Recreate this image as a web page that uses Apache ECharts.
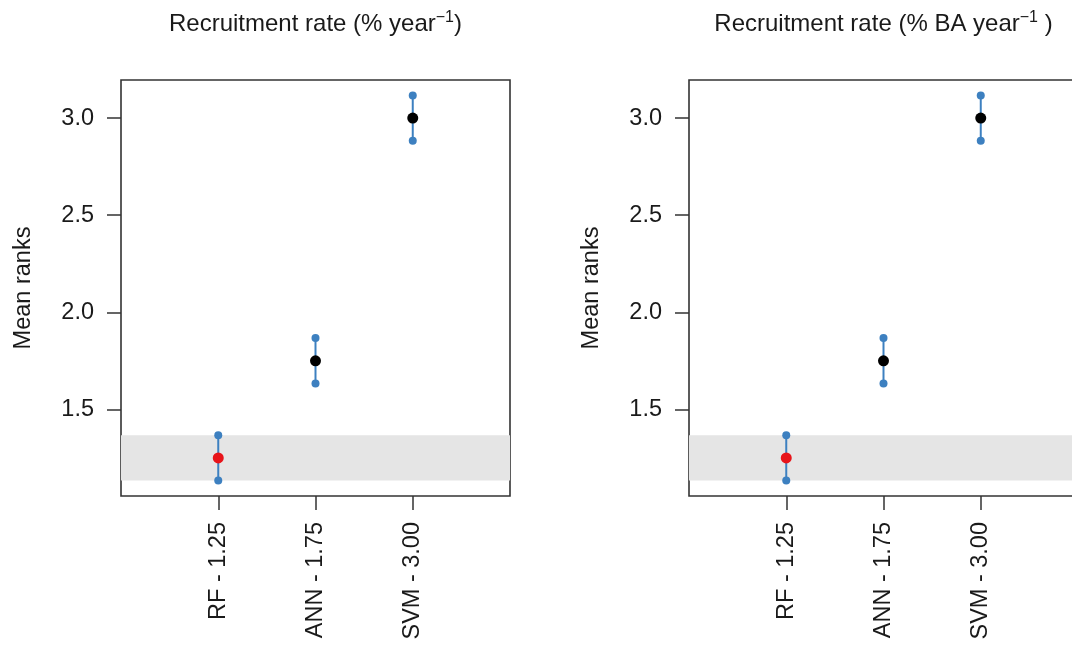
<!DOCTYPE html>
<html>
<head>
<meta charset="utf-8">
<script src="https://cdn.jsdelivr.net/npm/echarts@6/dist/echarts.min.js"></script>
<style>
  html, body { margin: 0; padding: 0; background: #fff; }
  #chart { width: 1072px; height: 646px; }
</style>
</head>
<body>
<div id="chart"></div>
<script>
// Friedman mean ranks of the three models, one array per response variable
const methods = ['RF', 'ANN', 'SVM'];
const meanRanksRate = [1.25, 1.75, 3.00];
const meanRanksBA = [1.25, 1.75, 3.00];
// half of the Nemenyi critical difference drawn as bars around each mean rank
const halfCD = 0.117;
const yTicks = [1.5, 2.0, 2.5, 3.0];
const xTicks = [1, 2, 3];

const FONT = '"Liberation Sans", Arial, Helvetica, sans-serif';
const INK = '#1a1a1a';
const FRAME = '#333333';
const CI_BLUE = '#3d80c0';
const BAND = '#e5e5e5';
const AXIS_FS = 23.5;
const TITLE_FS = 24;

// plot frames in pixels
const GRID_W = 389;
const GRID_H = 416;
const GRID_TOP = 80;
const GRID_LEFTS = [121, 689];

const panels = [
  { ranks: meanRanksRate, title: ['Recruitment rate (% year', '\u22121', ')'] },
  { ranks: meanRanksBA, title: ['Recruitment rate (% BA year', '\u22121', ' )'] }
];

// y range: span of all intervals padded by 4% on each side
function yRange(ranks) {
  const lo = Math.min(...ranks.map(v => v - halfCD));
  const hi = Math.max(...ranks.map(v => v + halfCD));
  const pad = 0.04 * (hi - lo);
  return [lo - pad, hi + pad];
}

const grids = [], xAxes = [], yAxes = [], series = [], graphics = [];

panels.forEach((p, k) => {
  const [ymin, ymax] = yRange(p.ranks);
  const best = p.ranks.indexOf(Math.min(...p.ranks));

  grids.push({
    left: GRID_LEFTS[k], top: GRID_TOP, width: GRID_W, height: GRID_H,
    outerBoundsMode: 'none', containLabel: false,
    show: true, borderColor: FRAME, borderWidth: 1.6, backgroundColor: 'transparent'
  });

  xAxes.push({
    gridIndex: k, type: 'value', min: 0, max: 4,
    axisLine: { show: false },
    splitLine: { show: false },
    axisTick: { show: true, customValues: xTicks, length: 14, inside: false,
                lineStyle: { color: FRAME, width: 1.5 } },
    axisLabel: {
      customValues: xTicks, rotate: 90, margin: 26, hideOverlap: false,
      color: INK, fontFamily: FONT, fontSize: AXIS_FS,
      formatter: v => methods[v - 1] + ' - ' + p.ranks[v - 1].toFixed(2)
    }
  });

  yAxes.push({
    gridIndex: k, type: 'value', min: ymin, max: ymax,
    name: 'Mean ranks', nameLocation: 'middle', nameRotate: 90, nameGap: 85,
    nameTextStyle: { color: INK, fontFamily: FONT, fontSize: AXIS_FS },
    axisLine: { show: false },
    splitLine: { show: false },
    axisTick: { show: true, customValues: yTicks, length: 14,
                lineStyle: { color: FRAME, width: 1.5 } },
    axisLabel: {
      customValues: yTicks, margin: 27,
      color: INK, fontFamily: FONT, fontSize: AXIS_FS,
      formatter: v => v.toFixed(1)
    }
  });

  // shaded band: interval of the best-ranked model
  series.push({
    type: 'line', xAxisIndex: k, yAxisIndex: k, data: [], z: 1, silent: true,
    markArea: {
      silent: true,
      itemStyle: { color: BAND },
      data: [[{ yAxis: p.ranks[best] - halfCD }, { yAxis: p.ranks[best] + halfCD }]]
    }
  });

  // interval segments
  series.push({
    type: 'custom', xAxisIndex: k, yAxisIndex: k, z: 2, silent: true,
    data: p.ranks.map((v, i) => [i + 1, v - halfCD, v + halfCD]),
    renderItem: (params, api) => {
      const a = api.coord([api.value(0), api.value(1)]);
      const b = api.coord([api.value(0), api.value(2)]);
      return {
        type: 'line',
        shape: { x1: a[0], y1: a[1], x2: b[0], y2: b[1] },
        style: { stroke: CI_BLUE, lineWidth: 2 }
      };
    }
  });

  // interval end points
  series.push({
    type: 'scatter', xAxisIndex: k, yAxisIndex: k, z: 3, silent: true,
    symbolSize: 8, itemStyle: { color: CI_BLUE, opacity: 1 },
    data: p.ranks.flatMap((v, i) => [[i + 1, v - halfCD], [i + 1, v + halfCD]])
  });

  // mean ranks, best model in red
  series.push({
    type: 'scatter', xAxisIndex: k, yAxisIndex: k, z: 4, silent: true,
    symbolSize: 11,
    data: p.ranks.map((v, i) => ({
      value: [i + 1, v],
      itemStyle: { color: i === best ? '#e8141a' : '#000000', opacity: 1 }
    }))
  });

  // panel title with superscript exponent
  graphics.push({
    type: 'text',
    x: GRID_LEFTS[k] + GRID_W / 2, y: 24,
    style: {
      text: '{a|' + p.title[0] + '}{s|' + p.title[1] + '}{a|' + p.title[2] + '}',
      align: 'center', verticalAlign: 'middle',
      rich: {
        a: { fontFamily: FONT, fontSize: TITLE_FS, fill: INK, lineHeight: 28 },
        s: { fontFamily: FONT, fontSize: 16, fill: INK, verticalAlign: 'top', lineHeight: 17 }
      }
    }
  });
});

const chart = echarts.init(document.getElementById('chart'), null, { renderer: 'canvas' });
chart.setOption({
  animation: false,
  backgroundColor: '#ffffff',
  grid: grids,
  xAxis: xAxes,
  yAxis: yAxes,
  series: series,
  graphic: graphics
});
</script>
</body>
</html>
